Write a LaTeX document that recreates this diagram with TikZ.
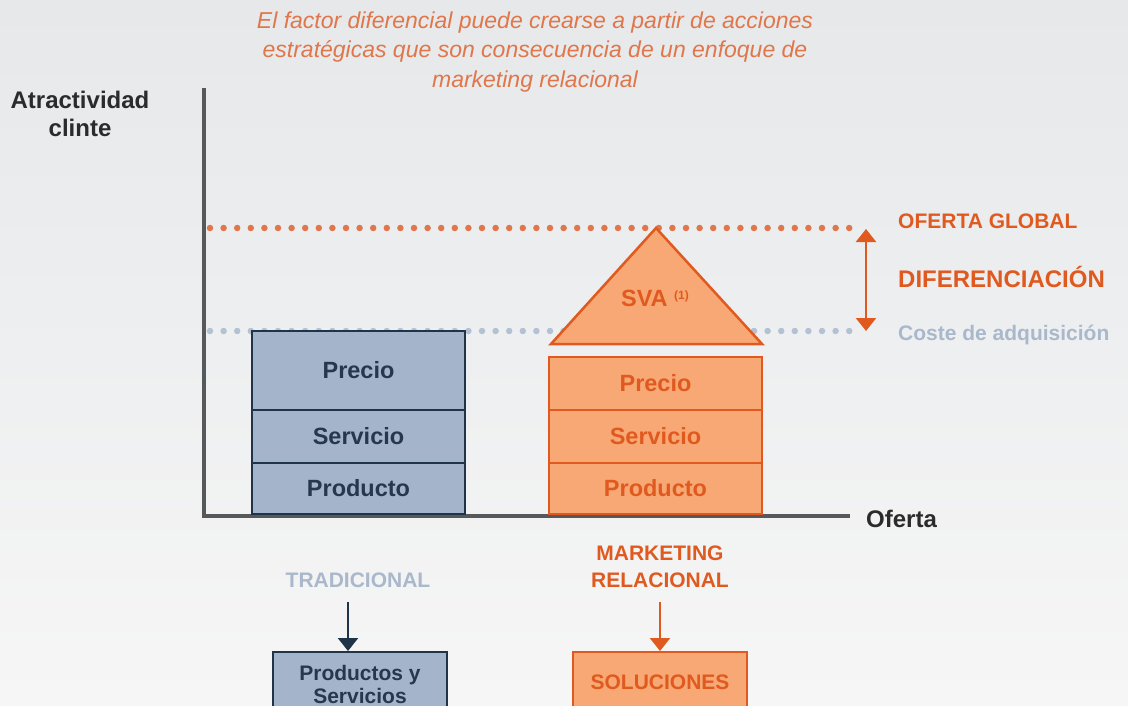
\documentclass[tikz,border=0pt]{standalone}
\usepackage{fontspec}
\setmainfont{Liberation Sans}
\usetikzlibrary{arrows.meta}
\definecolor{bgtop}{HTML}{E6E8EA}
\definecolor{bgbot}{HTML}{F6F6F6}
\definecolor{axisc}{HTML}{55595C}
\definecolor{navy}{HTML}{1F3349}
\definecolor{navytxt}{HTML}{27384D}
\definecolor{bluef}{HTML}{A3B4CB}
\definecolor{orangef}{HTML}{F8A874}
\definecolor{oranged}{HTML}{E05A20}
\definecolor{orangedot}{HTML}{E0764A}
\definecolor{bluedot}{HTML}{B4C1D2}
\definecolor{greytxt}{HTML}{AAB8CC}
\definecolor{darktxt}{HTML}{2B2B2B}
\tikzset{
  bluebox/.style={draw=navy, line width=2pt, fill=bluef, text=navytxt, font=\fontsize{23.5}{26}\selectfont\bfseries, inner sep=0pt},
  orabox/.style={draw=oranged, line width=2pt, fill=orangef, text=oranged, font=\fontsize{23.5}{26}\selectfont\bfseries, inner sep=0pt},
  dots/.style={line width=6.5pt, line cap=round, dash pattern=on 0pt off 13.6pt},
  lbl/.style={font=\fontsize{21}{24}\selectfont\bfseries, inner sep=0pt},
  tip/.style={-{Triangle[width=20pt,length=13pt]}},
}
\begin{document}
\begin{tikzpicture}[x=1pt,y=-1pt]
\useasboundingbox (0,0) rectangle (1128,706);
\shade[top color=bgtop, bottom color=bgbot] (0,0) rectangle (1128,706);
% top text
\node[text=orangedot, font=\fontsize{23}{29.5}\selectfont\itshape, align=center] (title) at (535,52)
  {El factor diferencial puede crearse a partir de acciones\\estratégicas que son consecuencia de un enfoque de\\marketing relacional};
% dotted lines
\coordinate (og1) at (210,228); \coordinate (og2) at (858,228);
\coordinate (ca1) at (210,331); \coordinate (ca2) at (858,331);
\draw[dots, draw=orangedot] (og1) -- (og2);
\draw[dots, draw=bluedot] (ca1) -- (ca2);
% axes
\coordinate (ytop) at (204,88); \coordinate (orig) at (204,516); \coordinate (xend) at (850,516);
\draw[axisc, line width=4pt] (ytop) -- (orig) -- (xend);
\node[text=darktxt, font=\fontsize{24}{28}\selectfont\bfseries, align=center] (ylab) at (80,114) {Atractividad\\clinte};
\node[text=darktxt, font=\fontsize{24}{26}\selectfont\bfseries, anchor=west, inner sep=0pt] (xlab) at (866,519) {Oferta};
% left stack
\node[bluebox, minimum width=213pt, minimum height=79pt] (lprecio) at (358.5,370.5) {Precio};
\node[bluebox, minimum width=213pt, minimum height=53pt] (lserv) at (358.5,436.5) {Servicio};
\node[bluebox, minimum width=213pt, minimum height=51pt] (lprod) at (358.5,488.5) {Producto};
% right stack
\node[orabox, minimum width=213pt, minimum height=53pt] (rprecio) at (655.5,383.5) {Precio};
\node[orabox, minimum width=213pt, minimum height=53pt] (rserv) at (655.5,436.5) {Servicio};
\node[orabox, minimum width=213pt, minimum height=51pt] (rprod) at (655.5,488.5) {Producto};
% triangle
\coordinate (apex) at (656,228); \coordinate (bl) at (551,344); \coordinate (br) at (762,344);
\draw[oranged, fill=orangef, line width=2.5pt, line join=miter] (apex) -- (bl) -- (br) -- cycle;
\node[text=oranged, font=\fontsize{23.5}{26}\selectfont\bfseries] (sva) at (655,298) {SVA \raisebox{7pt}{\fontsize{12}{14}\selectfont(1)}};
% double arrow
\coordinate (da1) at (866,229); \coordinate (da2) at (866,331);
\draw[oranged, line width=2.5pt, {Triangle[width=20pt,length=13pt]}-{Triangle[width=20pt,length=13pt]}] (da1) -- (da2);
\node[lbl, text=oranged, anchor=west] (og) at (898,221) {OFERTA GLOBAL};
\node[text=oranged, font=\fontsize{24}{28}\selectfont\bfseries, anchor=west, inner sep=0pt] (dif) at (898,277) {DIFERENCIACIÓN};
\node[lbl, text=greytxt, anchor=west] (coste) at (898,335) {Coste de adquisición};
% bottom
\node[lbl, text=greytxt] (trad) at (358,580) {TRADICIONAL};
\node[lbl, text=oranged, align=center, font=\fontsize{21}{27}\selectfont\bfseries] (mr) at (660,567) {MARKETING\\RELACIONAL};
\node[bluebox, minimum width=174pt, minimum height=70pt, font=\fontsize{21}{25}\selectfont\bfseries, align=center, anchor=north] (ps) at (360,651) {\raisebox{11pt}{\begin{tabular}{@{}c@{}}Productos y\\[-2pt]Servicios\end{tabular}}};
\node[orabox, minimum width=174pt, minimum height=70pt, font=\fontsize{21}{24}\selectfont\bfseries, anchor=north] (sol) at (660,651) {\raisebox{10pt}{SOLUCIONES}};
\draw[navy, line width=2.5pt, tip] (348,602) -- (ps.north -| 348,0);
\draw[oranged, line width=2.5pt, tip] (660,602) -- (sol.north);
\end{tikzpicture}
\end{document}
